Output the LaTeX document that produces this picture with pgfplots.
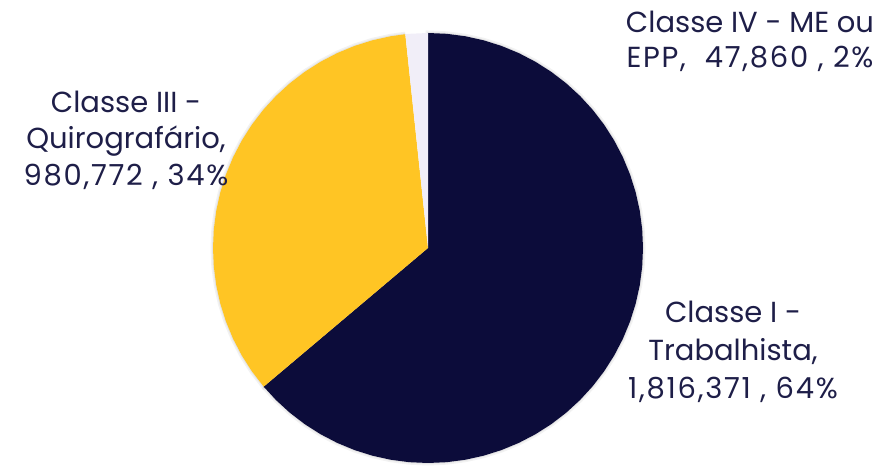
\documentclass[border=0pt]{standalone}
\usepackage{pgfplots}
\usepackage{pgfplotstable}
\pgfplotsset{compat=1.18}
\usepackage{fontspec}
\setmainfont{Poppins}

\definecolor{navy}{HTML}{0C0C3A}
\definecolor{gold}{HTML}{FFC524}
\definecolor{lav}{HTML}{F1EEF8}
\definecolor{txt}{HTML}{1E1E48}

% values: I 1816371, III 980772, IV 47860 (total 2845003)
% slices run clockwise from 12 o'clock; angle in degrees, radius in pt
\pgfplotstableread{
a r
0 0
90 215
85 215
80 215
75 215
70 215
65 215
60 215
55 215
50 215
45 215
40 215
35 215
30 215
25 215
20 215
15 215
10 215
5 215
0 215
-5 215
-10 215
-15 215
-20 215
-25 215
-30 215
-35 215
-40 215
-45 215
-50 215
-55 215
-60 215
-65 215
-70 215
-75 215
-80 215
-85 215
-90 215
-95 215
-100 215
-105 215
-110 215
-115 215
-120 215
-125 215
-130 215
-135 215
-139.84 215
}\sliceI

\pgfplotstableread{
a r
0 0
-139.84 215
-145 215
-150 215
-155 215
-160 215
-165 215
-170 215
-175 215
-180 215
-185 215
-190 215
-195 215
-200 215
-205 215
-210 215
-215 215
-220 215
-225 215
-230 215
-235 215
-240 215
-245 215
-250 215
-255 215
-260 215
-263.94 215
}\sliceIII

\pgfplotstableread{
a r
0 0
-263.94 215
-265 215
-270 215
}\sliceIV

\tikzset{lbl/.style={font=\fontsize{29}{34}\selectfont, text=txt, anchor=base, inner sep=0pt},
         num/.style={lbl, font=\fontsize{29}{34}\selectfont\addfontfeature{LetterSpace=6}}}

\begin{document}
\begin{tikzpicture}
\begin{axis}[
    scale only axis,
    width=886pt, height=463pt,
    xmin=-428, xmax=458,
    ymin=-215, ymax=248,
    axis lines=none,
    clip=false,
]
% keep the full axis area as the picture
\path (rel axis cs:0,0) rectangle (rel axis cs:1,1);
% soft shadow
\addplot[data cs=polar, draw=black, opacity=0.05, line width=5pt] table[x=a, y=r] {\sliceI};
\addplot[data cs=polar, draw=black, opacity=0.05, line width=5pt] table[x=a, y=r] {\sliceIII};
\addplot[data cs=polar, draw=black, opacity=0.06, line width=2pt] table[x=a, y=r] {\sliceI};
\addplot[data cs=polar, draw=black, opacity=0.06, line width=2pt] table[x=a, y=r] {\sliceIII};
% slices
\addplot[data cs=polar, fill=navy, draw=none] table[x=a, y=r] {\sliceI};
\addplot[data cs=polar, fill=gold, draw=none] table[x=a, y=r] {\sliceIII};
\addplot[data cs=polar, fill=lav, draw=none] table[x=a, y=r] {\sliceIV};

\node[lbl] at (axis cs:322,215) {Classe IV - ME ou};
\node[num] at (axis cs:322,180) {EPP,\ \ 47,860 , 2\%};
\node[lbl] at (axis cs:-302,135) {Classe III -};
\node[lbl] at (axis cs:-302,99) {Quirografário,};
\node[num] at (axis cs:-302,62) {980,772 , 34\%};
\node[lbl] at (axis cs:305,-75) {Classe I -};
\node[lbl] at (axis cs:305,-113) {Trabalhista,};
\node[num] at (axis cs:305,-151) {1,816,371 , 64\%};
\end{axis}
\end{tikzpicture}
\end{document}
